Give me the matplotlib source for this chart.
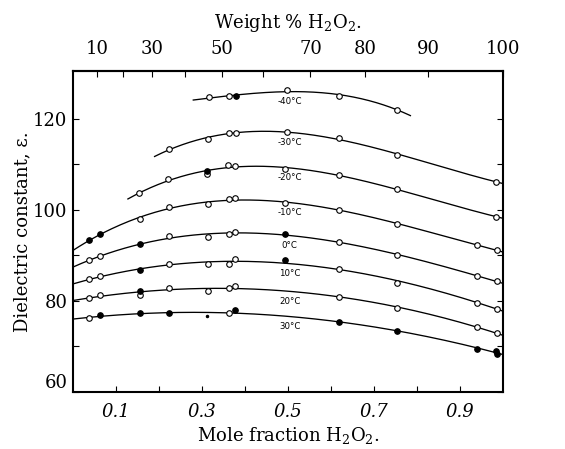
import numpy as np
import matplotlib
matplotlib.use("Agg")
import matplotlib.pyplot as plt

plt.rcParams['font.family'] = ['DejaVu Serif']
plt.rcParams['mathtext.fontset'] = 'dejavuserif'

# dielectric constant of H2O2-water mixtures, one isotherm per list
# f = 0 open circle, 1 filled circle, 2 small dot
x_m40 = [0.316, 0.363, 0.379, 0.497, 0.619, 0.754]
e_m40 = [124.7, 125.0, 124.9, 126.3, 125.1, 122.0]
f_m40 = [0, 0, 1, 0, 0, 0]

x_m30 = [0.223, 0.315, 0.363, 0.379, 0.497, 0.619, 0.754, 0.984]
e_m30 = [113.3, 115.6, 116.9, 116.9, 117.0, 115.8, 112.0, 106.2]
f_m30 = [0, 0, 0, 0, 0, 0, 0, 0]

x_m20 = [0.154, 0.222, 0.313, 0.313, 0.361, 0.378, 0.494, 0.619, 0.754, 0.984]
e_m20 = [103.6, 106.7, 108.6, 107.9, 109.9, 109.6, 109.0, 107.6, 104.5, 98.5]
f_m20 = [0, 0, 1, 0, 0, 0, 0, 0, 0, 0]

x_m10 = [0.038, 0.063, 0.157, 0.223, 0.314, 0.362, 0.378, 0.494, 0.619, 0.754, 0.941, 0.987]
e_m10 = [93.3, 94.7, 98.0, 100.6, 101.2, 102.3, 102.5, 101.6, 100.0, 96.9, 92.2, 91.1]
f_m10 = [1, 1, 0, 0, 0, 0, 0, 0, 0, 0, 0, 0]

x_0 = [0.038, 0.063, 0.157, 0.223, 0.314, 0.362, 0.378, 0.494, 0.619, 0.754, 0.941, 0.987]
e_0 = [88.9, 89.8, 92.5, 94.2, 94.0, 94.8, 95.2, 94.6, 93.0, 90.1, 85.4, 84.3]
f_0 = [0, 0, 1, 0, 0, 0, 0, 1, 0, 0, 0, 0]

x_10 = [0.038, 0.063, 0.157, 0.223, 0.314, 0.362, 0.378, 0.494, 0.619, 0.754, 0.941, 0.987]
e_10 = [84.8, 85.4, 86.7, 88.2, 88.0, 88.2, 89.2, 89.0, 86.9, 84.0, 79.6, 78.3]
f_10 = [0, 0, 1, 0, 0, 0, 0, 1, 0, 0, 0, 0]

x_20 = [0.038, 0.063, 0.157, 0.157, 0.223, 0.314, 0.362, 0.378, 0.619, 0.754, 0.941, 0.987]
e_20 = [80.7, 81.2, 82.1, 81.3, 82.8, 82.2, 82.8, 83.3, 80.9, 78.5, 74.2, 72.9]
f_20 = [0, 0, 1, 0, 0, 0, 0, 0, 0, 0, 0, 0]

x_30 = [0.038, 0.063, 0.157, 0.223, 0.311, 0.362, 0.378, 0.619, 0.754, 0.941, 0.985, 0.987]
e_30 = [76.2, 76.8, 77.4, 77.4, 76.6, 77.4, 78.0, 75.4, 73.4, 69.5, 69.0, 68.3]
f_30 = [0, 1, 1, 1, 2, 0, 1, 1, 1, 1, 1, 1]

temp_labels = ['-40°C', '-30°C', '-20°C', '-10°C', '0°C', '10°C', '20°C', '30°C']
series = [(x_m40, e_m40, f_m40), (x_m30, e_m30, f_m30), (x_m20, e_m20, f_m20),
          (x_m10, e_m10, f_m10), (x_0, e_0, f_0), (x_10, e_10, f_10),
          (x_20, e_20, f_20), (x_30, e_30, f_30)]
# extent of each smoothed curve along the mole fraction axis
spans = [(0.28, 0.785), (0.19, 1.0), (0.128, 1.0), (0.0, 1.0),
         (0.0, 1.0), (0.0, 1.0), (0.0, 1.0), (0.0, 1.0)]

x_ticks = [0.1, 0.2, 0.3, 0.4, 0.5, 0.6, 0.7, 0.8, 0.9]
x_ticklabels = ['0.1', '', '0.3', '', '0.5', '', '0.7', '', '0.9']
wt_ticks = [10, 20, 30, 40, 50, 60, 70, 80, 90, 100]
wt_ticklabels = ['10', '', '30', '', '50', '', '70', '80', '90', '100']
y_ticks = [60, 70, 80, 90, 100, 110, 120]
y_ticklabels = ['60', '', '80', '', '100', '', '120']


def mole_to_wt(x):
    x = np.asarray(x, dtype=float)
    return 100 * 34.0 * x / (34.0 * x + 18.0 * (1 - x))


def wt_to_mole(w):
    w = np.asarray(w, dtype=float)
    a = w / 34.0
    return a / (a + (100 - w) / 18.0)


fig = plt.figure(figsize=(5.65, 4.49), dpi=100)
ax = fig.add_axes([0.129, 0.127, 0.761, 0.715])

for lab, (xs, es, fs), (x0, x1) in zip(temp_labels, series, spans):
    xs = np.array(xs)
    es = np.array(es)
    fs = np.array(fs)
    coef = np.polyfit(xs, es, 3)
    xx = np.linspace(x0, x1, 200)
    ax.plot(xx, np.polyval(coef, xx), color='black', lw=0.95, zorder=2)
    ax.plot(xs[fs == 0], es[fs == 0], 'o', ms=4, mfc='white', mec='black', mew=0.8, zorder=3)
    ax.plot(xs[fs == 1], es[fs == 1], 'o', ms=4, mfc='black', mec='black', mew=0.8, zorder=3)
    ax.plot(xs[fs == 2], es[fs == 2], 'o', ms=1.5, mfc='black', mec='black', zorder=3)
    ax.text(0.504, np.polyval(coef, 0.504) - 2.2, lab, family='DejaVu Sans',
            fontsize=6.2, ha='center', va='center')

ax.set_xlim(0, 1.0)
ax.set_ylim(60, 130.5)

ax.set_xticks(x_ticks)
ax.set_xticklabels(x_ticklabels, style='italic', fontsize=13)
ax.set_yticks(y_ticks)
ax.set_yticklabels(y_ticklabels, fontsize=13)
ax.yaxis.get_ticklabels()[0].set_va('bottom')
ax.tick_params(axis='x', direction='in', length=4, width=0.8, pad=8, top=False)
ax.tick_params(axis='y', direction='in', length=4, width=0.8, pad=4, right=True)
for s in ax.spines.values():
    s.set_linewidth(1.5)

top = ax.secondary_xaxis('top', functions=(mole_to_wt, wt_to_mole))
top.set_xticks(wt_ticks)
top.set_xticklabels(wt_ticklabels, fontsize=13)
top.tick_params(direction='in', length=4, width=0.8, pad=9)
top.spines['top'].set_linewidth(1.5)
top.set_xlabel(r'Weight % H$_2$O$_2$.', fontsize=13, labelpad=9)

ax.set_xlabel(r'Mole fraction H$_2$O$_2$.', fontsize=13, labelpad=3)
ax.set_ylabel('Dielectric constant, ε.', fontsize=13, labelpad=1)

fig.savefig('out.png', dpi=100)
